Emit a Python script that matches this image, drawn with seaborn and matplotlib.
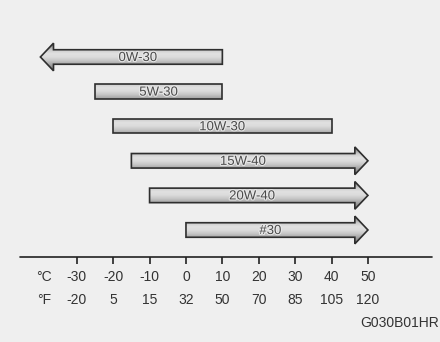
import numpy as np
import matplotlib
matplotlib.use('Agg')
import matplotlib.pyplot as plt
import matplotlib.patheffects as pe
from matplotlib.patches import Polygon
import seaborn as sns

# oil grades and their temperature ranges (deg C)
grades = ['0W-30', '5W-30', '10W-30', '15W-40', '20W-40', '#30']
low_c = [-40, -25, -20, -15, -10, 0]
high_c = [10, 10, 40, 50, 50, 50]
open_left = [True, False, False, False, False, False]
open_right = [False, False, False, True, True, True]

celsius = [-30, -20, -10, 0, 10, 20, 30, 40, 50]
fahrenheit = ['-20', '5', '15', '32', '50', '70', '85', '105', '120']
code = 'G030B01HR'

sns.set_theme(style='white')
plt.rcParams['font.family'] = ['Liberation Sans', 'DejaVu Sans']

bg = '#efefef'
fig = plt.figure(figsize=(4.4, 3.42), dpi=100, facecolor=bg)
ax = fig.add_axes([0, 0, 1, 1])
ax.set_facecolor(bg)
ax.set_xlim(-51.1, 69.8)
ax.set_ylim(8.237, -1.647)
ax.axis('off')

body_h = 0.42
head_h = 0.80
head_len = 3.6

# vertical gradient used to shade the bars (dark edge, light centre)
grad = np.array([0.45, 0.62, 0.80, 0.88, 0.86, 0.78, 0.66, 0.55, 0.45])
grad = np.interp(np.linspace(0, 8, 60), np.arange(9), grad)[:, None]

for i, name in enumerate(grades):
    a, b = low_c[i], high_c[i]
    y0, y1 = i - body_h / 2, i + body_h / 2
    pts = []
    if open_left[i]:
        pts += [(a + head_len, y0), (a + head_len, i - head_h / 2), (a, i),
                (a + head_len, i + head_h / 2), (a + head_len, y1)]
    else:
        pts += [(a, y0), (a, y1)]
    if open_right[i]:
        pts += [(b - head_len, y1), (b - head_len, i + head_h / 2), (b, i),
                (b - head_len, i - head_h / 2), (b - head_len, y0)]
    else:
        pts += [(b, y1), (b, y0)]
    poly = Polygon(pts, closed=True, facecolor='none', edgecolor='#2e2e2e',
                   lw=1.2, zorder=3, joinstyle='miter')
    ax.add_patch(poly)
    img = ax.imshow(grad, cmap='gray', vmin=0, vmax=1, aspect='auto',
                    extent=(a, b, i + head_h / 2, i - head_h / 2), zorder=2,
                    interpolation='bilinear')
    img.set_clip_path(poly)
    left = a + (head_len if open_left[i] else 0)
    right = b - (head_len if open_right[i] else 0)
    ax.text((left + right) / 2, i + 0.03, name, ha='center', va='center',
            fontsize=9.5, color='#4a4a4a', zorder=4,
            path_effects=[pe.withStroke(linewidth=1.5, foreground='#e8e8e8')])

# temperature scale
axis_y = 5.78
ax.plot([-45.5, 67.6], [axis_y, axis_y], color='#222222', lw=1.2)
ax.vlines(celsius, axis_y, axis_y + 0.19, color='#222222', lw=1.2)
row_c = axis_y + 0.58
row_f = axis_y + 1.24
ax.text(-39.0, row_c, '°C', ha='center', va='center', fontsize=10, color='#333333')
ax.text(-39.0, row_f, '°F', ha='center', va='center', fontsize=10, color='#333333')
for c, f in zip(celsius, fahrenheit):
    ax.text(c, row_c, str(c), ha='center', va='center', fontsize=10, color='#333333')
    ax.text(c, row_f, f, ha='center', va='center', fontsize=10, color='#333333')

fig.text(0.998, 0.055, code, ha='right', va='center', fontsize=10, color='#333333')

fig.savefig('out.png', dpi=100, facecolor=bg)
